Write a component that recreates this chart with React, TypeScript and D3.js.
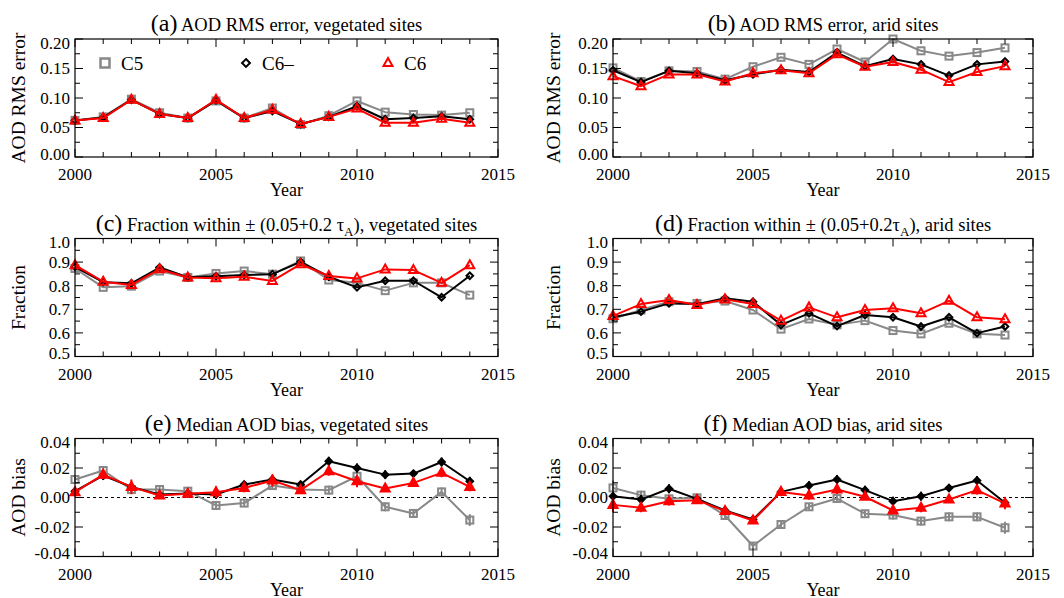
import * as d3 from 'd3'

// years shared by every panel
const years = d3.range(2000, 2015)

// (a) AOD RMS error, vegetated sites
const rmsVegC5 = [0.062, 0.068, 0.098, 0.075, 0.066, 0.095, 0.066, 0.083, 0.055, 0.070, 0.095, 0.076, 0.072, 0.071, 0.075]
const rmsVegC6m = [0.062, 0.067, 0.097, 0.073, 0.066, 0.096, 0.066, 0.078, 0.056, 0.068, 0.086, 0.064, 0.066, 0.069, 0.064]
const rmsVegC6 = [0.062, 0.066, 0.097, 0.073, 0.066, 0.097, 0.066, 0.080, 0.056, 0.068, 0.082, 0.058, 0.058, 0.065, 0.058]

// (b) AOD RMS error, arid sites
const rmsAridC5 = [0.151, 0.128, 0.146, 0.145, 0.132, 0.153, 0.169, 0.157, 0.183, 0.161, 0.200, 0.180, 0.171, 0.177, 0.185]
const rmsAridC6m = [0.147, 0.127, 0.146, 0.142, 0.130, 0.140, 0.148, 0.144, 0.177, 0.154, 0.166, 0.157, 0.138, 0.157, 0.162]
const rmsAridC6 = [0.137, 0.120, 0.140, 0.140, 0.128, 0.142, 0.147, 0.142, 0.174, 0.153, 0.161, 0.148, 0.127, 0.144, 0.154]

// (c) fraction within EE, vegetated sites
const fracVegC5 = [0.873, 0.793, 0.798, 0.862, 0.835, 0.852, 0.862, 0.849, 0.905, 0.824, 0.812, 0.779, 0.812, 0.812, 0.760]
const fracVegC6m = [0.880, 0.815, 0.810, 0.877, 0.836, 0.840, 0.845, 0.849, 0.901, 0.838, 0.793, 0.821, 0.821, 0.751, 0.842]
const fracVegC6 = [0.887, 0.817, 0.803, 0.870, 0.835, 0.832, 0.838, 0.820, 0.891, 0.841, 0.831, 0.869, 0.866, 0.812, 0.887]

// (d) fraction within EE, arid sites
const fracAridC5 = [0.660, 0.697, 0.732, 0.725, 0.735, 0.697, 0.616, 0.659, 0.634, 0.652, 0.610, 0.596, 0.641, 0.596, 0.591]
const fracAridC6m = [0.666, 0.690, 0.725, 0.722, 0.747, 0.732, 0.634, 0.683, 0.629, 0.676, 0.666, 0.627, 0.666, 0.599, 0.627]
const fracAridC6 = [0.672, 0.722, 0.739, 0.718, 0.742, 0.722, 0.652, 0.708, 0.666, 0.697, 0.704, 0.683, 0.736, 0.666, 0.658]

// (e) median bias, vegetated sites, with error half-widths
const biasVegC5 = [0.0122, 0.0183, 0.0054, 0.0054, 0.0043, -0.0054, -0.0038, 0.0081, 0.0054, 0.0050, 0.0144, -0.0063, -0.0108, 0.0038, -0.0153]
const biasVegC6m = [0.0043, 0.0149, 0.0072, 0.0020, 0.0027, 0.0020, 0.0088, 0.0122, 0.0088, 0.0246, 0.0200, 0.0155, 0.0162, 0.0241, 0.0110]
const biasVegC6 = [0.0036, 0.0155, 0.0072, 0.0014, 0.0025, 0.0036, 0.0065, 0.0115, 0.0050, 0.0178, 0.0110, 0.0061, 0.0099, 0.0167, 0.0072]
const errVegC5 = [0.003, 0.003, 0.003, 0.002, 0.002, 0.003, 0.002, 0.003, 0.002, 0.003, 0.003, 0.003, 0.003, 0.003, 0.004]
const errVegC6m = [0.003, 0.003, 0.003, 0.002, 0.002, 0.003, 0.002, 0.003, 0.002, 0.003, 0.003, 0.003, 0.002, 0.003, 0.003]
const errVegC6 = [0.003, 0.003, 0.005, 0.002, 0.002, 0.004, 0.003, 0.004, 0.002, 0.003, 0.004, 0.002, 0.002, 0.003, 0.003]

// (f) median bias, arid sites, with error half-widths
const biasAridC5 = [0.0065, 0.0016, -0.0009, -0.0002, -0.0122, -0.0329, -0.0183, -0.0063, -0.0007, -0.0110, -0.0119, -0.0160, -0.0131, -0.0131, -0.0205]
const biasAridC6m = [0.0009, -0.0014, 0.0059, -0.0009, -0.0088, -0.0149, 0.0038, 0.0081, 0.0122, 0.0050, -0.0025, 0.0009, 0.0065, 0.0115, -0.0036]
const biasAridC6 = [-0.0050, -0.0070, -0.0025, -0.0018, -0.0092, -0.0156, 0.0038, 0.0014, 0.0054, 0.0005, -0.0088, -0.0070, -0.0014, 0.0050, -0.0040]
const errAridC5 = [0.005, 0.003, 0.002, 0.002, 0.002, 0.002, 0.003, 0.002, 0.002, 0.002, 0.003, 0.003, 0.003, 0.003, 0.004]
const errAridC6m = [0.003, 0.003, 0.003, 0.002, 0.002, 0.002, 0.002, 0.003, 0.003, 0.003, 0.003, 0.003, 0.002, 0.003, 0.003]
const errAridC6 = [0.005, 0.003, 0.003, 0.002, 0.002, 0.002, 0.002, 0.003, 0.003, 0.002, 0.002, 0.003, 0.002, 0.003, 0.004]

const seriesNames = ['C5', 'C6\u2013', 'C6']
const colours = ['#888888', '#000000', '#ff0000']
const markerKinds = ['square', 'diamond', 'triangle']

const font = '"Liberation Serif", "Times New Roman", Times, serif'

interface Panel {
    letter: string
    title: React.ReactNode
    yLabel: string
    domain: [number, number]
    major: number
    minor: number
    digits: number
    series: number[][]
    errors?: number[][]
    legend?: boolean
}

const panels: Panel[] = [
    { letter: '(a)', title: 'AOD RMS error, vegetated sites', yLabel: 'AOD RMS error', domain: [0, 0.2], major: 0.05, minor: 0.025, digits: 2, series: [rmsVegC5, rmsVegC6m, rmsVegC6], legend: true },
    { letter: '(b)', title: 'AOD RMS error, arid sites', yLabel: 'AOD RMS error', domain: [0, 0.2], major: 0.05, minor: 0.025, digits: 2, series: [rmsAridC5, rmsAridC6m, rmsAridC6] },
    {
        letter: '(c)',
        title: <>Fraction within ± (0.05+0.2 τ<tspan fontSize={13} dy={5}>A</tspan><tspan dy={-5}>), vegetated sites</tspan></>,
        yLabel: 'Fraction', domain: [0.5, 1.0], major: 0.1, minor: 0.05, digits: 1, series: [fracVegC5, fracVegC6m, fracVegC6]
    },
    {
        letter: '(d)',
        title: <>Fraction within ± (0.05+0.2τ<tspan fontSize={13} dy={5}>A</tspan><tspan dy={-5}>), arid sites</tspan></>,
        yLabel: 'Fraction', domain: [0.5, 1.0], major: 0.1, minor: 0.05, digits: 1, series: [fracAridC5, fracAridC6m, fracAridC6]
    },
    { letter: '(e)', title: 'Median AOD bias, vegetated sites', yLabel: 'AOD bias', domain: [-0.04, 0.04], major: 0.02, minor: 0.01, digits: 2, series: [biasVegC5, biasVegC6m, biasVegC6], errors: [errVegC5, errVegC6m, errVegC6] },
    { letter: '(f)', title: 'Median AOD bias, arid sites', yLabel: 'AOD bias', domain: [-0.04, 0.04], major: 0.02, minor: 0.01, digits: 2, series: [biasAridC5, biasAridC6m, biasAridC6], errors: [errAridC5, errAridC6m, errAridC6] },
]

const colLeft = [75, 613]
const colRight = [498, 1033]
const yLabelX = [25, 560]
const rowTop = [39, 238.5, 438.5]
const boxHeight = 118

const Marker = ({ kind, x, y, colour, filled, size = 1 }: { kind: string, x: number, y: number, colour: string, filled?: boolean, size?: number }) => {
    const fill = filled ? colour : 'none'
    if (kind === 'square') {
        const h = 3.5 * size
        return <rect x={x - h} y={y - h} width={2 * h} height={2 * h} fill='none' stroke={colour} strokeWidth={2} />
    }
    if (kind === 'diamond') {
        const h = 3.3 * size
        return <path d={`M${x},${y - h} L${x + h},${y} L${x},${y + h} L${x - h},${y} Z`} fill={fill} stroke={colour} strokeWidth={2} />
    }
    return <path d={`M${x},${y - 5} L${x + 4.5},${y + 3} L${x - 4.5},${y + 3} Z`} fill={fill} stroke={colour} strokeWidth={2} strokeLinejoin='miter' />
}

const PanelChart = ({ p, index }: { p: Panel, index: number }) => {
    const col = index % 2
    const row = Math.floor(index / 2)
    const left = colLeft[col]
    const right = colRight[col]
    const top = rowTop[row]
    const bottom = top + boxHeight

    const x = d3.scaleLinear().domain([2000, 2015]).range([left, right])
    const y = d3.scaleLinear().domain(p.domain).range([bottom, top])

    const line = d3.line<number>()
        .x((_, i) => x(years[i]))
        .y(d => y(d))

    const nMajor = Math.round((p.domain[1] - p.domain[0]) / p.major)
    const majorTicks = d3.range(nMajor + 1).map(i => p.domain[0] + i * p.major)
    const nMinor = Math.round((p.domain[1] - p.domain[0]) / p.minor)
    const minorTicks = d3.range(nMinor + 1).map(i => p.domain[0] + i * p.minor)
    const xMajor = [2000, 2005, 2010, 2015]
    const xMinor = d3.range(2000, 2016)

    const fmt = (v: number) => (Math.abs(v) < 1e-9 ? (0).toFixed(p.digits) : v.toFixed(p.digits))

    const cx = (left + right) / 2
    const cy = (top + bottom) / 2

    return (
        <g>
            {/* title */}
            <text x={cx} y={top - 8} textAnchor='middle' fontSize={18.5} fill='#000'>
                <tspan fontSize={24}>{p.letter}</tspan> {p.title}
            </text>

            {/* zero line for bias panels */}
            {p.domain[0] < 0 && (
                <line x1={left} x2={right} y1={y(0)} y2={y(0)} stroke='#000' strokeWidth={1} strokeDasharray='3,3' />
            )}

            {/* data */}
            {p.series.map((s, si) => (
                <g key={si}>
                    <path d={line(s) ?? ''} fill='none' stroke={colours[si]} strokeWidth={2} strokeLinejoin='round' />
                    {p.errors && s.map((v, i) => (
                        <line key={'e' + i} x1={x(years[i])} x2={x(years[i])}
                            y1={y(v - p.errors![si][i])} y2={y(v + p.errors![si][i])}
                            stroke={colours[si]} strokeWidth={2} />
                    ))}
                    {s.map((v, i) => (
                        <Marker key={i} kind={markerKinds[si]} x={x(years[i])} y={y(v)} colour={colours[si]} filled={!!p.errors} />
                    ))}
                </g>
            ))}

            {/* frame */}
            <rect x={left} y={top} width={right - left} height={boxHeight} fill='none' stroke='#000' strokeWidth={1.2} />

            {/* y ticks, both sides */}
            {minorTicks.map((v, i) => {
                const isMajor = majorTicks.some(m => Math.abs(m - v) < 1e-9)
                const len = isMajor ? 8 : 5
                return (
                    <g key={'y' + i}>
                        <line x1={left} x2={left + len} y1={y(v)} y2={y(v)} stroke='#000' strokeWidth={1} />
                        <line x1={right} x2={right - len} y1={y(v)} y2={y(v)} stroke='#000' strokeWidth={1} />
                    </g>
                )
            })}
            {majorTicks.map((v, i) => {
                const nudge = i === 0 ? -3 : i === majorTicks.length - 1 ? 4 : 0
                return (
                    <text key={'yl' + i} x={left - 5} y={y(v) + nudge} dy='0.35em' textAnchor='end' fontSize={17} fill='#000'>
                        {fmt(v)}
                    </text>
                )
            })}

            {/* x ticks, both sides */}
            {xMinor.map(v => {
                const len = xMajor.includes(v) ? 8 : 5
                return (
                    <g key={'x' + v}>
                        <line x1={x(v)} x2={x(v)} y1={bottom} y2={bottom - len} stroke='#000' strokeWidth={1} />
                        <line x1={x(v)} x2={x(v)} y1={top} y2={top + len} stroke='#000' strokeWidth={1} />
                    </g>
                )
            })}
            {xMajor.map(v => (
                <text key={'xl' + v} x={x(v)} y={bottom + 23} textAnchor='middle' fontSize={17} fill='#000'>{v}</text>
            ))}
            <text x={cx} y={bottom + 39} textAnchor='middle' fontSize={18} fill='#000'>Year</text>

            {/* y title */}
            <text transform={`translate(${yLabelX[col]},${cy}) rotate(-90)`} textAnchor='middle' fontSize={19.5} fill='#000'>
                {p.yLabel}
            </text>

            {/* legend */}
            {p.legend && (
                <g>
                    {seriesNames.map((name, si) => {
                        const lx = [105, 246, 388][si]
                        const ly = 63
                        return (
                            <g key={name}>
                                {si === 0
                                    ? <rect x={lx - 4.5} y={ly - 4.5} width={9} height={9} fill='none' stroke={colours[si]} strokeWidth={2.5} />
                                    : <Marker kind={markerKinds[si]} x={lx} y={ly} colour={colours[si]} size={1.2} />}
                                <text x={lx + 16} y={ly + 7} fontSize={19} fill='#000'>{name}</text>
                            </g>
                        )
                    })}
                </g>
            )}
        </g>
    )
}

const App = () => {
    return (
        <svg width={1064} height={598} fontFamily={font}
            style={{ position: 'absolute', left: 0, top: 0, background: '#fff' }}>
            <rect width={1064} height={598} fill='#fff' />
            {panels.map((p, i) => <PanelChart key={i} p={p} index={i} />)}
        </svg>
    )
}

export default App
